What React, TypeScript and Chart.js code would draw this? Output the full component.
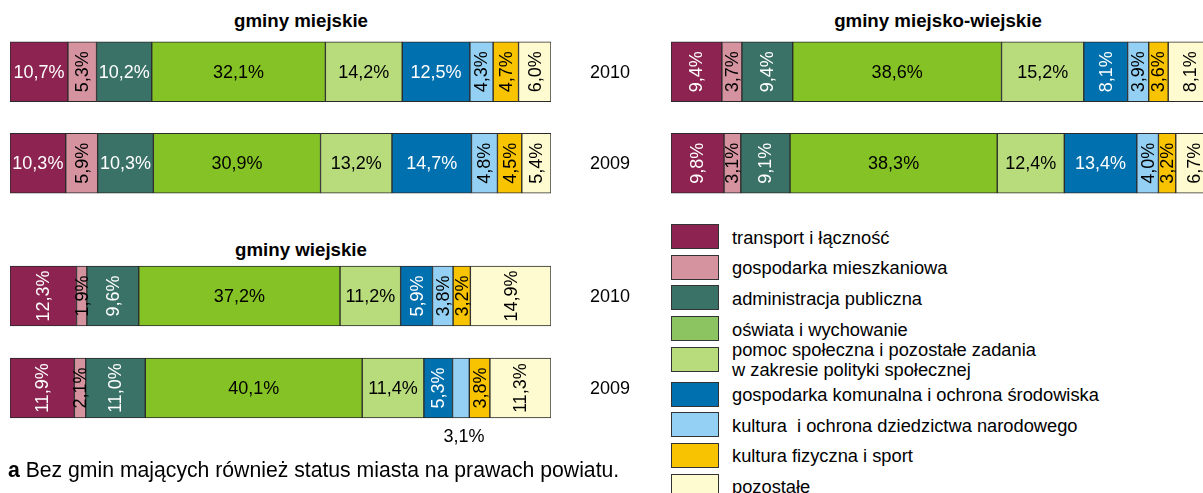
import React, { useEffect, useRef } from 'react';
import { Chart, registerables } from 'chart.js';

Chart.register(...registerables);
Chart.defaults.font.family = '"Liberation Sans", Arial, sans-serif';

// ---------- DATA ----------
const YEARS = ['2010', '2009'];

const CATEGORIES = [
  'transport i łączność',
  'gospodarka mieszkaniowa',
  'administracja publiczna',
  'oświata i wychowanie',
  'pomoc społeczna i pozostałe zadania\nw zakresie polityki społecznej',
  'gospodarka komunalna i ochrona środowiska',
  'kultura  i ochrona dziedzictwa narodowego',
  'kultura fizyczna i sport',
  'pozostałe',
];

const MIEJSKIE_2010 = [10.7, 5.3, 10.2, 32.1, 14.2, 12.5, 4.3, 4.7, 6.0];
const MIEJSKIE_2009 = [10.3, 5.9, 10.3, 30.9, 13.2, 14.7, 4.8, 4.5, 5.4];
const MIEJSKO_WIEJSKIE_2010 = [9.4, 3.7, 9.4, 38.6, 15.2, 8.1, 3.9, 3.6, 8.1];
const MIEJSKO_WIEJSKIE_2009 = [9.8, 3.1, 9.1, 38.3, 12.4, 13.4, 4.0, 3.2, 6.7];
const WIEJSKIE_2010 = [12.3, 1.9, 9.6, 37.2, 11.2, 5.9, 3.8, 3.2, 14.9];
const WIEJSKIE_2009 = [11.9, 2.1, 11.0, 40.1, 11.4, 5.3, 3.1, 3.8, 11.3];

const TITLE_MIEJSKIE = 'gminy miejskie';
const TITLE_MIEJSKO_WIEJSKIE = 'gminy miejsko-wiejskie';
const TITLE_WIEJSKIE = 'gminy wiejskie';
const FOOTNOTE_MARK = 'a';
const FOOTNOTE = ' Bez gmin mających również status miasta na prawach powiatu.';

// ---------- STYLES ----------
const COLORS = ['#8C2350', '#D4939F', '#3B7268', '#85C226', '#B8DC7C', '#0070AE', '#94D0F3', '#F8C300', '#FFFBD0'];
const LEGEND_COLORS = ['#8C2350', '#D4939F', '#3B7268', '#8CC462', '#B8DC7C', '#0070AE', '#94D0F3', '#F8C300', '#FFFBD0'];
const TEXT_COLORS = ['#fff', '#000', '#fff', '#000', '#000', '#fff', '#000', '#000', '#000'];
const FONT = '"Liberation Sans", Arial, sans-serif';

const fmt = (v: number) => v.toFixed(1).replace('.', ',') + '%';

const labelPlugin = {
  id: 'segLabels',
  afterDatasetsDraw(chart: any, _args: any, opts: any) {
    const ctx = chart.ctx;
    const flat: number[][] = opts.flat || [[], []];
    const below: number[][] = opts.below || [[], []];
    chart.data.datasets.forEach((ds: any, di: number) => {
      const meta = chart.getDatasetMeta(di);
      meta.data.forEach((el: any, yi: number) => {
        const v = ds.data[yi];
        const p = el.getProps(['x', 'base', 'y', 'height'], true);
        const cx = (p.x + p.base) / 2;
        const text = fmt(v);
        ctx.save();
        ctx.font = '18px ' + FONT;
        ctx.textAlign = 'center';
        ctx.textBaseline = 'middle';
        if (below[yi] && below[yi].includes(di)) {
          ctx.fillStyle = '#000';
          ctx.fillText(text, cx + 3, p.y + p.height / 2 + 19);
        } else {
          ctx.fillStyle = TEXT_COLORS[di];
          if (flat[yi] && flat[yi].includes(di)) {
            ctx.fillText(text, cx, p.y + 1);
          } else {
            ctx.translate(cx + 1, p.y);
            ctx.rotate(-Math.PI / 2);
            ctx.fillText(text, 0, 0);
          }
        }
        ctx.restore();
      });
    });
    if (opts.years) {
      const yScale = chart.scales.y;
      ctx.save();
      ctx.font = '18px ' + FONT;
      ctx.fillStyle = '#000';
      ctx.textAlign = 'center';
      ctx.textBaseline = 'middle';
      chart.data.labels.forEach((lab: string, i: number) => {
        ctx.fillText(lab, chart.chartArea.right + 59, yScale.getPixelForValue(i) + 1);
      });
      ctx.restore();
    }
  },
};

type PanelProps = {
  v2010: number[];
  v2009: number[];
  flat: number[][];
  below?: number[][];
  left: number;
  top: number;
  width: number;
  height: number;
  padBottom?: number;
  padRight?: number;
  xMax: number;
  showYears: boolean;
};

function Panel(props: PanelProps) {
  const ref = useRef<HTMLCanvasElement | null>(null);
  useEffect(() => {
    if (!ref.current) return;
    const chart = new Chart(ref.current, {
      type: 'bar',
      data: {
        labels: YEARS,
        datasets: CATEGORIES.map((c, i) => ({
          label: c,
          data: [props.v2010[i], props.v2009[i]],
          backgroundColor: COLORS[i],
          borderColor: '#2a2a2a',
          borderWidth: 1,
          borderSkipped: false,
          barThickness: 60,
        })),
      },
      options: {
        indexAxis: 'y',
        animation: false,
        responsive: false,
        maintainAspectRatio: false,
        layout: { padding: { top: 0, left: 0, right: props.padRight || 0, bottom: props.padBottom || 0 } },
        scales: {
          x: { stacked: true, min: 0, max: props.xMax, display: false },
          y: { stacked: true, display: false },
        },
        plugins: {
          legend: { display: false },
          tooltip: { enabled: false },
          title: { display: false },
          segLabels: { flat: props.flat, below: props.below || [[], []], years: props.showYears },
        } as any,
      },
      plugins: [labelPlugin],
    } as any);
    return () => chart.destroy();
  }, []);
  return (
    <canvas
      ref={ref}
      width={props.width}
      height={props.height}
      style={{ position: 'absolute', left: props.left, top: props.top, width: props.width, height: props.height }}
    />
  );
}

const titleStyle = (cx: number, top: number): React.CSSProperties => ({
  position: 'absolute',
  left: cx - 200,
  width: 400,
  top,
  textAlign: 'center',
  fontWeight: 'bold',
  fontSize: 18.7,
  lineHeight: '20px',
  color: '#000',
  whiteSpace: 'nowrap',
});

export default function App() {
  return (
    <div
      style={{
        position: 'absolute',
        left: 0,
        top: 0,
        width: 1203,
        height: 493,
        overflow: 'hidden',
        background: '#fff',
        fontFamily: FONT,
        color: '#000',
      }}
    >
      <div style={titleStyle(301, 11)}>{TITLE_MIEJSKIE}</div>
      <div style={titleStyle(938, 11)}>{TITLE_MIEJSKO_WIEJSKIE}</div>
      <div style={titleStyle(301, 240)}>{TITLE_WIEJSKIE}</div>

      <Panel
        v2010={MIEJSKIE_2010}
        v2009={MIEJSKIE_2009}
        flat={[[0, 2, 3, 4, 5], [0, 2, 3, 4, 5]]}
        left={10}
        top={26}
        width={621}
        height={183}
        padRight={80}
        xMax={100}
        showYears={true}
      />
      <Panel
        v2010={MIEJSKO_WIEJSKIE_2010}
        v2009={MIEJSKO_WIEJSKIE_2009}
        flat={[[3, 4], [3, 4, 5]]}
        left={671}
        top={26}
        width={532}
        height={183}
        xMax={(100 * 532) / 541}
        showYears={false}
      />
      <Panel
        v2010={WIEJSKIE_2010}
        v2009={WIEJSKIE_2009}
        flat={[[3, 4], [3, 4]]}
        below={[[], [6]]}
        left={10}
        top={250}
        width={621}
        height={214}
        padBottom={30}
        padRight={80}
        xMax={100}
        showYears={true}
      />

      {CATEGORIES.map((c, i) => {
        const top = 224 + i * 30.7 + (i >= 5 ? 4 : 0);
        const lines = c.split('\n');
        return (
          <div key={c} style={{ position: 'absolute', left: 671, top, height: 25, width: 520 }}>
            <div
              style={{
                position: 'absolute',
                left: 0,
                top: 0,
                width: 48,
                height: 25,
                boxSizing: 'border-box',
                border: '1px solid #333',
                background: LEGEND_COLORS[i],
              }}
            />
            <div
              style={{
                position: 'absolute',
                left: 61,
                top: 12.5 - lines.length * 10 + 1,
                fontSize: 18.3,
                lineHeight: '20px',
                whiteSpace: 'pre',
              }}
            >
              {lines.map((l) => (
                <div key={l}>{l}</div>
              ))}
            </div>
          </div>
        );
      })}

      <div style={{ position: 'absolute', left: 8, top: 458, fontSize: 21.2, lineHeight: '24px', whiteSpace: 'pre' }}>
        <b>{FOOTNOTE_MARK}</b>
        {FOOTNOTE}
      </div>
    </div>
  );
}
